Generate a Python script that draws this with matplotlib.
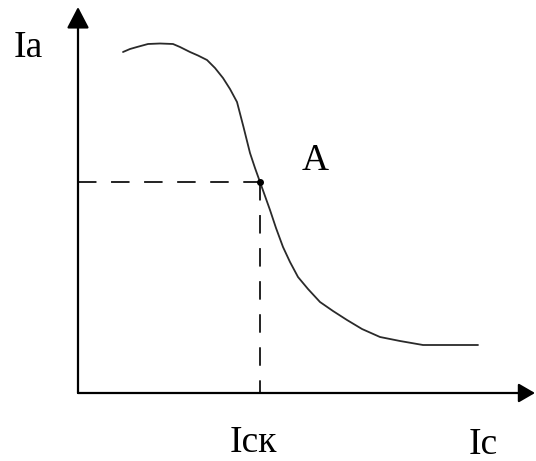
import numpy as np
import matplotlib
matplotlib.use("Agg")
import matplotlib.pyplot as plt

# Curve data (chart units: x to the right of origin, y above origin)
curve_x = [45, 52, 59, 70, 82, 95, 102, 112, 120, 129, 137, 145, 152, 159,
           165.5, 172, 177, 182, 187, 192, 198, 205, 212, 220, 230,
           242, 255, 269, 284, 302, 322, 345, 400]
curve_y = [341, 344, 346, 349, 349.5, 349, 346, 341, 337.5, 333, 325, 315,
           304, 291, 266, 240, 225, 211, 197, 183, 165, 146, 131,
           116, 104, 91, 82, 73, 64, 56, 52, 48, 48]

point_A = (182, 211)
axis_x_end = 457
axis_y_end = 386

label_text = ["Ia", "A", "Icк", "Ic"]
label_x = [-50, 237, 175, 405]
label_y = [336, 223, -59, -61]

fig = plt.figure(figsize=(5.36, 4.61), dpi=100)
ax = fig.add_axes([0, 0, 1, 1])
ax.set_xlim(-78, 458)
ax.set_ylim(-68, 393)
ax.axis("off")

# axes with arrows
ax.annotate("", xy=(axis_x_end, 0), xytext=(0, 0),
            arrowprops=dict(arrowstyle="-|>,head_length=1.0,head_width=0.58",
                            color="black", lw=1.6, shrinkA=0, shrinkB=0))
ax.annotate("", xy=(0, axis_y_end), xytext=(0, 0),
            arrowprops=dict(arrowstyle="-|>,head_length=1.3,head_width=0.68",
                            color="black", lw=1.6, shrinkA=0, shrinkB=0))

# curve
ax.plot(curve_x, curve_y, color="#2a2a2a", lw=1.3,
        solid_capstyle="round", solid_joinstyle="round")

# dashed guides
ax.plot([0, point_A[0]], [point_A[1], point_A[1]], color="#222222", lw=1.4,
        dashes=(9.5, 7.5))
ax.plot([point_A[0], point_A[0]], [point_A[1], 0], color="#222222", lw=1.4,
        dashes=(9.5, 7.5))
ax.plot([point_A[0]], [point_A[1]], marker="o", color="black", ms=4)

for txt, x, y in zip(label_text, label_x, label_y):
    ax.text(x, y, txt, fontsize=27, family="Liberation Serif",
            ha="center", va="baseline", color="black")

fig.savefig("out.png", dpi=100)
